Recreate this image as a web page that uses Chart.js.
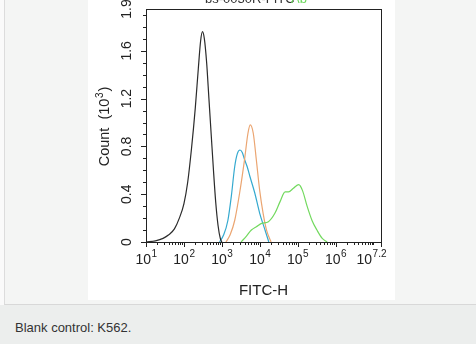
<!DOCTYPE html>
<html lang="en">
<head>
    <meta charset="UTF-8">
    <title>Blank control: K562</title>
    <script src="https://cdn.jsdelivr.net/npm/chart.js"></script>
    <style>
        body {
            margin: 0;
            width: 476px;
            height: 344px;
            background: #fafafa;
            font-family: Arial, "Liberation Sans", sans-serif;
            position: relative;
            overflow: hidden;
        }
        .frame {
            position: absolute;
            left: 4px;
            top: 0;
            width: 472px;
            height: 304px;
            background: #f4f5f4;
            border-left: 1px solid #dcdcdc;
            border-bottom: 1px solid #d8d8d8;
        }
        .plot {
            position: absolute;
            left: 88px;
            top: 0;
            width: 307px;
            height: 300px;
            background: #fff;
        }
        .caption {
            position: absolute;
            left: 0;
            top: 305px;
            width: 476px;
            height: 39px;
            background: #eceeed;
            color: #333;
            font-size: 13px;
        }
        .caption span {
            position: absolute;
            left: 15px;
            top: 15px;
        }
    </style>
</head>
<body>

    <div class="frame"></div>
    <div class="plot"><canvas id="histChart" width="307" height="300"></canvas></div>
    <div class="caption"><span>Blank control: K562.</span></div>

    <script>
        // fluorescence in decades (log10 of FITC-H), count in thousands
        const blankLog   = [1.0, 1.25, 1.45, 1.6, 1.75, 1.88, 2.0, 2.1, 2.2, 2.3, 2.38, 2.44, 2.49, 2.54, 2.6, 2.66, 2.72, 2.78, 2.84, 2.9, 2.96, 3.0];
        const blankCount = [0.0, 0.01, 0.03, 0.06, 0.11, 0.2, 0.32, 0.5, 0.78, 1.12, 1.45, 1.68, 1.76, 1.7, 1.5, 1.2, 0.9, 0.6, 0.33, 0.14, 0.03, 0.0];

        const cyanLog   = [2.94, 3.05, 3.16, 3.25, 3.34, 3.41, 3.48, 3.54, 3.6, 3.67, 3.74, 3.87, 4.0, 4.14, 4.24];
        const cyanCount = [0.0, 0.06, 0.18, 0.38, 0.63, 0.74, 0.77, 0.75, 0.69, 0.63, 0.55, 0.41, 0.24, 0.1, 0.0];

        const orangeLog   = [3.11, 3.22, 3.34, 3.47, 3.6, 3.69, 3.75, 3.83, 3.91, 4.0, 4.09, 4.18, 4.3];
        const orangeCount = [0.0, 0.06, 0.18, 0.41, 0.69, 0.91, 0.98, 0.91, 0.69, 0.43, 0.24, 0.1, 0.0];

        const greenLog   = [3.51, 3.65, 3.78, 3.92, 4.05, 4.23, 4.4, 4.54, 4.67, 4.76, 4.89, 5.03, 5.13, 5.25, 5.38, 5.51, 5.65, 5.78];
        const greenCount = [0.0, 0.05, 0.1, 0.13, 0.156, 0.17, 0.24, 0.34, 0.42, 0.42, 0.45, 0.48, 0.43, 0.3, 0.18, 0.1, 0.03, 0.0];

        const xMajorExp  = [1, 2, 3, 4, 5, 6, 7.2];
        const xMajorSup  = ['1', '2', '3', '4', '5', '6', '7.2'];
        const yTickVals  = [0, 0.4, 0.8, 1.2, 1.6, 1.95];
        const yTickText  = ['0', '0.4', '0.8', '1.2', '1.6', '1.9'];

        const toPoints = (logs, counts) => logs.map((l, i) => ({ x: Math.pow(10, l), y: counts[i] }));

        const series = (data, color) => ({
            data: data,
            borderColor: color,
            borderWidth: 1.2,
            pointRadius: 0,
            fill: false,
            tension: 0.4,
            cubicInterpolationMode: 'monotone'
        });

        const flowAxes = {
            id: 'flowAxes',
            afterDraw(chart) {
                const { ctx, chartArea: a, scales: { x, y } } = chart;
                ctx.save();
                ctx.strokeStyle = '#222';
                ctx.fillStyle = '#222';
                ctx.lineWidth = 1;

                // frame
                ctx.strokeRect(Math.round(a.left) + 0.5, Math.round(a.top) + 0.5,
                               Math.round(a.right - a.left), Math.round(a.bottom - a.top));

                // x ticks: decades plus 2..9 minors
                ctx.beginPath();
                for (let d = 1; d <= 7; d++) {
                    for (let m = 1; m <= 9; m++) {
                        const v = m * Math.pow(10, d);
                        if (v > x.max * 1.0001) continue;
                        const px = Math.round(x.getPixelForValue(v)) + 0.5;
                        const len = (m === 1 && d < 7) ? 5 : 3;
                        ctx.moveTo(px, a.bottom);
                        ctx.lineTo(px, a.bottom + len);
                    }
                }
                const pEnd = Math.round(x.getPixelForValue(x.max)) + 0.5;
                ctx.moveTo(pEnd, a.bottom);
                ctx.lineTo(pEnd, a.bottom + 5);

                // y ticks every 0.1
                for (let k = 0; k <= 19; k++) {
                    const py = Math.round(y.getPixelForValue(k / 10)) + 0.5;
                    const len = (k % 4 === 0) ? 5 : 3;
                    ctx.moveTo(a.left, py);
                    ctx.lineTo(a.left - len, py);
                }
                ctx.stroke();

                // x labels 10^n
                const base = '14px Arial, "Liberation Sans", sans-serif';
                const sup = '10px Arial, "Liberation Sans", sans-serif';
                ctx.textBaseline = 'alphabetic';
                ctx.textAlign = 'left';
                xMajorExp.forEach((e, i) => {
                    const px = x.getPixelForValue(Math.pow(10, e));
                    ctx.font = base;
                    const w1 = ctx.measureText('10').width;
                    ctx.font = sup;
                    const w2 = ctx.measureText(xMajorSup[i]).width;
                    let left = px - (w1 + w2) / 2;
                    if (left + w1 + w2 > 298) left = 298 - w1 - w2;
                    ctx.font = base;
                    ctx.fillText('10', left, a.bottom + 22);
                    ctx.font = sup;
                    ctx.fillText(xMajorSup[i], left + w1 + 0.5, a.bottom + 15);
                });

                // y labels, rotated
                ctx.font = base;
                ctx.textAlign = 'center';
                ctx.textBaseline = 'middle';
                yTickVals.forEach((v, i) => {
                    const py = y.getPixelForValue(v);
                    ctx.save();
                    ctx.translate(a.left - 19, py);
                    ctx.rotate(-Math.PI / 2);
                    ctx.fillText(yTickText[i], 0, 0);
                    ctx.restore();
                });

                // axis titles
                ctx.font = '15px Arial, "Liberation Sans", sans-serif';
                ctx.textAlign = 'center';
                ctx.textBaseline = 'alphabetic';
                ctx.fillText('FITC-H', (a.left + a.right) / 2, a.bottom + 53);

                ctx.save();
                ctx.translate(a.left - 41, (a.top + a.bottom) / 2 + 1);
                ctx.rotate(-Math.PI / 2);
                const tFont = '14.5px Arial, "Liberation Sans", sans-serif';
                ctx.font = tFont;
                const tA = 'Count  (10', tB = '3', tC = ')';
                const wA = ctx.measureText(tA).width, wC = ctx.measureText(tC).width;
                ctx.font = sup;
                const wB = ctx.measureText(tB).width;
                let sx = -(wA + wB + wC + 1.5) / 2;
                ctx.textAlign = 'left';
                ctx.textBaseline = 'middle';
                ctx.font = tFont;
                ctx.fillText(tA, sx, 0);
                ctx.font = sup;
                ctx.fillText(tB, sx + wA + 0.5, -5);
                ctx.font = tFont;
                ctx.fillText(tC, sx + wA + wB + 1.5, 0);
                ctx.restore();

                // cut-off heading at the very top
                ctx.font = '13px Arial, "Liberation Sans", sans-serif';
                ctx.textAlign = 'left';
                ctx.textBaseline = 'alphabetic';
                ctx.fillStyle = '#333';
                ctx.fillText('bs-0030R-FITC', 117, 3);
                ctx.fillStyle = '#6ad85a';
                ctx.fillText('Ab', 203, 3);

                ctx.restore();
            }
        };

        const ctx1 = document.getElementById('histChart').getContext('2d');
        const histChart = new Chart(ctx1, {
            type: 'line',
            data: {
                datasets: [
                    series(toPoints(blankLog, blankCount), '#2b2b2b'),
                    series(toPoints(greenLog, greenCount), '#72d95e'),
                    series(toPoints(orangeLog, orangeCount), '#eba571'),
                    series(toPoints(cyanLog, cyanCount), '#34a9cf')
                ]
            },
            options: {
                responsive: false,
                devicePixelRatio: 1,
                animation: false,
                layout: {
                    padding: { left: 58, top: 9, right: 14, bottom: 58 }
                },
                plugins: {
                    legend: { display: false },
                    tooltip: { enabled: false }
                },
                scales: {
                    x: {
                        type: 'logarithmic',
                        min: 10,
                        max: Math.pow(10, 7.2),
                        display: false
                    },
                    y: {
                        type: 'linear',
                        min: 0,
                        max: 1.95,
                        display: false
                    }
                }
            },
            plugins: [flowAxes]
        });
    </script>
</body>
</html>
